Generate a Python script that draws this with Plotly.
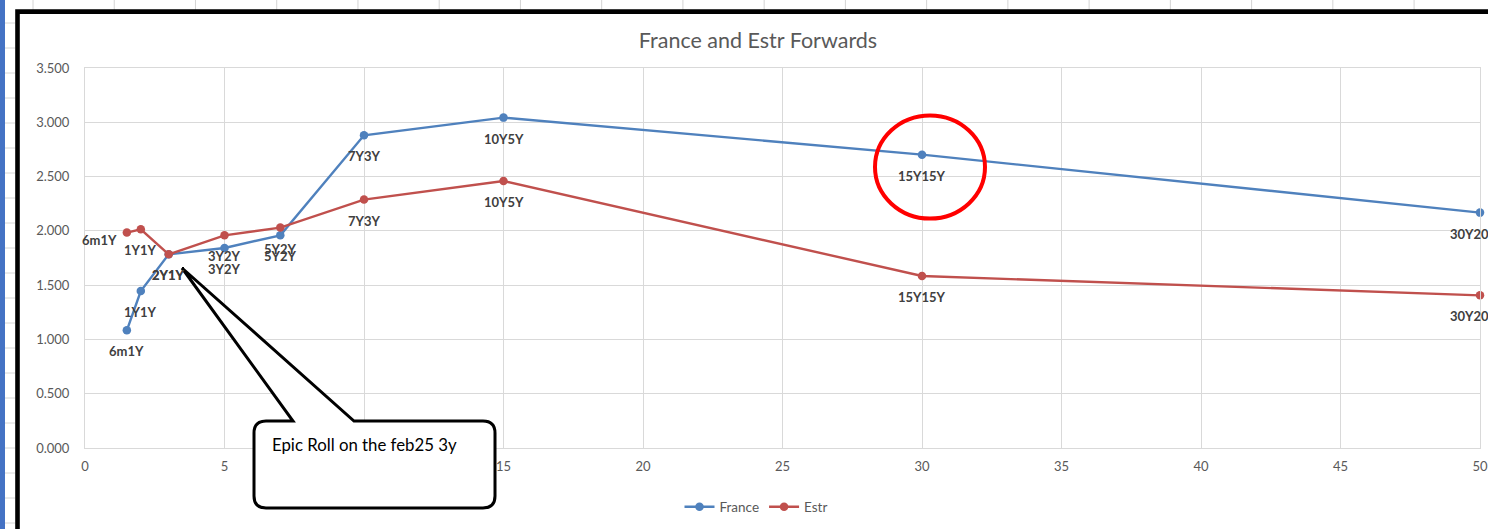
import plotly.graph_objects as go

# ---------------- data ----------------
tenor_x = [1.5, 2, 3, 5, 7, 10, 15, 30, 50]
point_labels = ["6m1Y", "1Y1Y", "2Y1Y", "3Y2Y", "5Y2Y", "7Y3Y", "10Y5Y", "15Y15Y", "30Y20Y"]
france = [1.084, 1.446, 1.784, 1.842, 1.959, 2.880, 3.043, 2.702, 2.168]
estr = [1.984, 2.014, 1.784, 1.959, 2.030, 2.288, 2.459, 1.584, 1.406]
x_ticks = [0, 5, 10, 15, 20, 25, 30, 35, 40, 45, 50]
y_ticks = [0, 0.5, 1.0, 1.5, 2.0, 2.5, 3.0, 3.5]
title_text = "France and Estr Forwards"
callout_text = "Epic Roll on the feb25 3y"

# ---------------- layout geometry ----------------
FIG_W, FIG_H = 1488, 529
L, T, W, H = 85, 68, 1395, 380

def px(x):
    return (x - L) / W

def py(y):
    return (T + H - y) / H

BLUE = "#4F81BD"
RED = "#C0504D"
GRID = "#D9D9D9"
TXT = "#595959"
LBL = "#404040"
FONT = "Lato"

fig = go.Figure()
for name, vals, col in [("France", france, BLUE), ("Estr", estr, RED)]:
    fig.add_trace(go.Scatter(
        x=tenor_x, y=vals, name=name, mode="lines+markers",
        line=dict(color=col, width=2.4),
        marker=dict(color=col, size=8.5),
        cliponaxis=False,
    ))

annotations = []
last = len(tenor_x) - 1
for series, vals in [("France", france), ("Estr", estr)]:
    for i, (xv, yv, lab) in enumerate(zip(tenor_x, vals, point_labels)):
        if series == "Estr" and i == 0:
            pos = dict(xanchor="right", xshift=-8, yshift=-7)
        elif i == last:
            pos = dict(xanchor="center", xshift=-6, yshift=-21)
        else:
            pos = dict(xanchor="center", yshift=-21)
        annotations.append(dict(
            x=xv, y=yv, xref="x", yref="y", text=lab, showarrow=False,
            yanchor="middle", font=dict(family=FONT, size=13, color=LBL, weight="bold"),
            **pos,
        ))

# callout text
annotations.append(dict(
    x=px(270), y=py(444), xref="paper", yref="paper", text=callout_text,
    showarrow=False, xanchor="left", yanchor="middle",
    font=dict(family=FONT, size=16.8, color="#000000"),
))

shapes = []
# Excel sheet background: blue stripe and cell grid lines
shapes.append(dict(type="rect", xref="paper", yref="paper",
                   x0=px(0), x1=px(5), y0=py(0), y1=py(FIG_H),
                   fillcolor="#4472C4", line=dict(width=0), layer="above"))
for k in range(18):
    xx = 33 + 81.24 * k
    shapes.append(dict(type="line", xref="paper", yref="paper",
                       x0=px(xx), x1=px(xx), y0=py(0), y1=py(10),
                       line=dict(color="#D4D4D4", width=1), layer="above"))
for k in range(21):
    yy = 23 + 25 * k
    shapes.append(dict(type="line", xref="paper", yref="paper",
                       x0=px(5), x1=px(15), y0=py(yy), y1=py(yy),
                       line=dict(color="#D4D4D4", width=1), layer="above"))
# chart border
shapes.append(dict(type="rect", xref="paper", yref="paper",
                   x0=px(17.5), x1=px(1500), y0=py(11.6), y1=py(545),
                   line=dict(color="#000000", width=4.6), layer="above"))

# red circle
shapes.append(dict(type="circle", xref="paper", yref="paper",
                   x0=px(875), x1=px(985), y0=py(115.5), y1=py(218.5),
                   line=dict(color="#FF0000", width=4), layer="above"))

# callout box with pointer
bx0, bx1, by0, by1, r = 254, 495, 421, 508, 12
tipx, tipy = 182, 268
def P(x, y):
    return f"{px(x):.5f},{py(y):.5f}"
path = (f"M {P(bx0 + r, by0)} L {P(293, by0)} L {P(tipx, tipy)} L {P(354, by0)} "
        f"L {P(bx1 - r, by0)} Q {P(bx1, by0)} {P(bx1, by0 + r)} "
        f"L {P(bx1, by1 - r)} Q {P(bx1, by1)} {P(bx1 - r, by1)} "
        f"L {P(bx0 + r, by1)} Q {P(bx0, by1)} {P(bx0, by1 - r)} "
        f"L {P(bx0, by0 + r)} Q {P(bx0, by0)} {P(bx0 + r, by0)} Z")
shapes.append(dict(type="path", xref="paper", yref="paper", path=path,
                   fillcolor="#FFFFFF", line=dict(color="#000000", width=3),
                   layer="above"))

fig.update_layout(
    width=FIG_W, height=FIG_H,
    margin=dict(l=L, r=FIG_W - L - W, t=T, b=FIG_H - T - H, autoexpand=False),
    paper_bgcolor="#FFFFFF", plot_bgcolor="#FFFFFF",
    font=dict(family=FONT, size=13, color=TXT),
    title=dict(text=title_text, x=px(758), xref="paper", xanchor="center",
               y=1 - 40 / FIG_H, yref="container", yanchor="middle",
               font=dict(family=FONT, size=21.5, color=TXT)),
    xaxis=dict(range=[0, 50], tickvals=x_ticks, ticktext=[str(v) for v in x_ticks],
               showgrid=True, gridcolor=GRID, gridwidth=1, zeroline=False,
               showline=True, linecolor=GRID, linewidth=1, mirror=True,
               ticks="", ticklabelstandoff=6,
               tickfont=dict(family=FONT, size=13, color=TXT)),
    yaxis=dict(range=[0, 3.5], tickvals=y_ticks, ticktext=[f"{v:.3f}" for v in y_ticks],
               showgrid=True, gridcolor=GRID, gridwidth=1, zeroline=False,
               showline=True, linecolor=GRID, linewidth=1, mirror=True,
               ticks="", ticklabelstandoff=12,
               tickfont=dict(family=FONT, size=13, color=TXT)),
    legend=dict(orientation="h", x=px(756), xanchor="center", y=py(507), yanchor="middle",
                font=dict(family=FONT, size=13.5, color=TXT), bgcolor="rgba(0,0,0,0)"),
    showlegend=True,
    annotations=annotations,
    shapes=shapes,
)

fig.write_html("out.html")
